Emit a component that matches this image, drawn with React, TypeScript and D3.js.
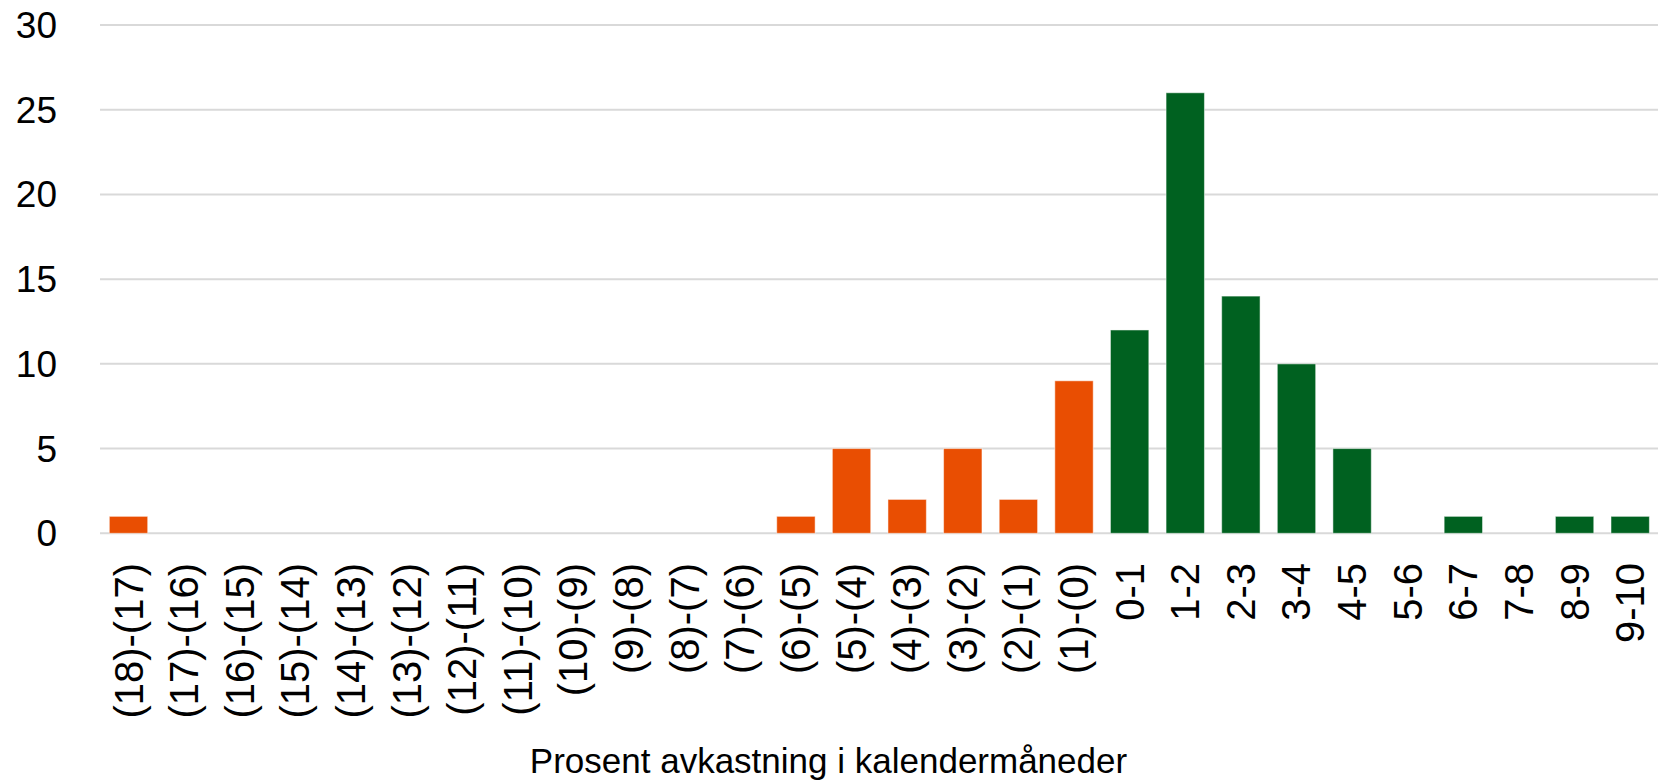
import React from "react";
import * as d3 from "d3";

const categories: string[] = [
  "(18)-(17)", "(17)-(16)", "(16)-(15)", "(15)-(14)", "(14)-(13)", "(13)-(12)",
  "(12)-(11)", "(11)-(10)", "(10)-(9)", "(9)-(8)", "(8)-(7)", "(7)-(6)",
  "(6)-(5)", "(5)-(4)", "(4)-(3)", "(3)-(2)", "(2)-(1)", "(1)-(0)",
  "0-1", "1-2", "2-3", "3-4", "4-5", "5-6", "6-7", "7-8", "8-9", "9-10",
];
const counts: number[] = [
  1, 0, 0, 0, 0, 0,
  0, 0, 0, 0, 0, 0,
  1, 5, 2, 5, 2, 9,
  12, 26, 14, 10, 5, 0, 1, 0, 1, 1,
];
const negativeCategories: string[] = categories.slice(0, 18);
const yTicks: number[] = [0, 5, 10, 15, 20, 25, 30];
const axisTitle = "Prosent avkastning i kalendermåneder";

const W = 1661;
const H = 782;
const FONT = "'Liberation Sans', Arial, sans-serif";
const ORANGE = "#E94E02";
const GREEN = "#006120";

export default function App() {
  const x = d3
    .scaleBand<string>()
    .domain(categories)
    .range([100.7, 1658])
    .paddingInner(0.31)
    .paddingOuter(0.155);
  const y = d3.scaleLinear().domain([0, 30]).range([533.3, 25]);

  return (
    <svg
      width={W}
      height={H}
      style={{ position: "absolute", left: 0, top: 0, display: "block", background: "#fff" }}
    >
      <rect x={0} y={0} width={W} height={H} fill="#fff" />
      {yTicks.map((t) => (
        <g key={t}>
          <line x1={100} x2={1658} y1={y(t)} y2={y(t)} stroke="#D9D9D9" strokeWidth={2} />
          <text
            x={57}
            y={y(t)}
            dy="0.35em"
            textAnchor="end"
            fontFamily={FONT}
            fontSize={37}
            fill="#000"
          >
            {t}
          </text>
        </g>
      ))}
      {categories.map((c, i) => {
        const v = counts[i];
        if (!v) return null;
        const neg = negativeCategories.includes(c);
        return (
          <rect
            key={c}
            x={x(c)}
            y={y(v)}
            width={x.bandwidth()}
            height={y(0) - y(v)}
            fill={neg ? ORANGE : GREEN}
            stroke="#ffffff"
            strokeOpacity={0.5}
            strokeWidth={1}
          />
        );
      })}
      {categories.map((c) => {
        const cx = (x(c) as number) + x.bandwidth() / 2;
        return (
          <text
            key={c}
            transform={`translate(${cx},563) rotate(-90)`}
            dy="0.35em"
            textAnchor="end"
            fontFamily={FONT}
            fontSize={40}
            fill="#000"
          >
            {c}
          </text>
        );
      })}
      <text
        x={828.5}
        y={773}
        textAnchor="middle"
        fontFamily={FONT}
        fontSize={35}
        fill="#000"
      >
        {axisTitle}
      </text>
    </svg>
  );
}
